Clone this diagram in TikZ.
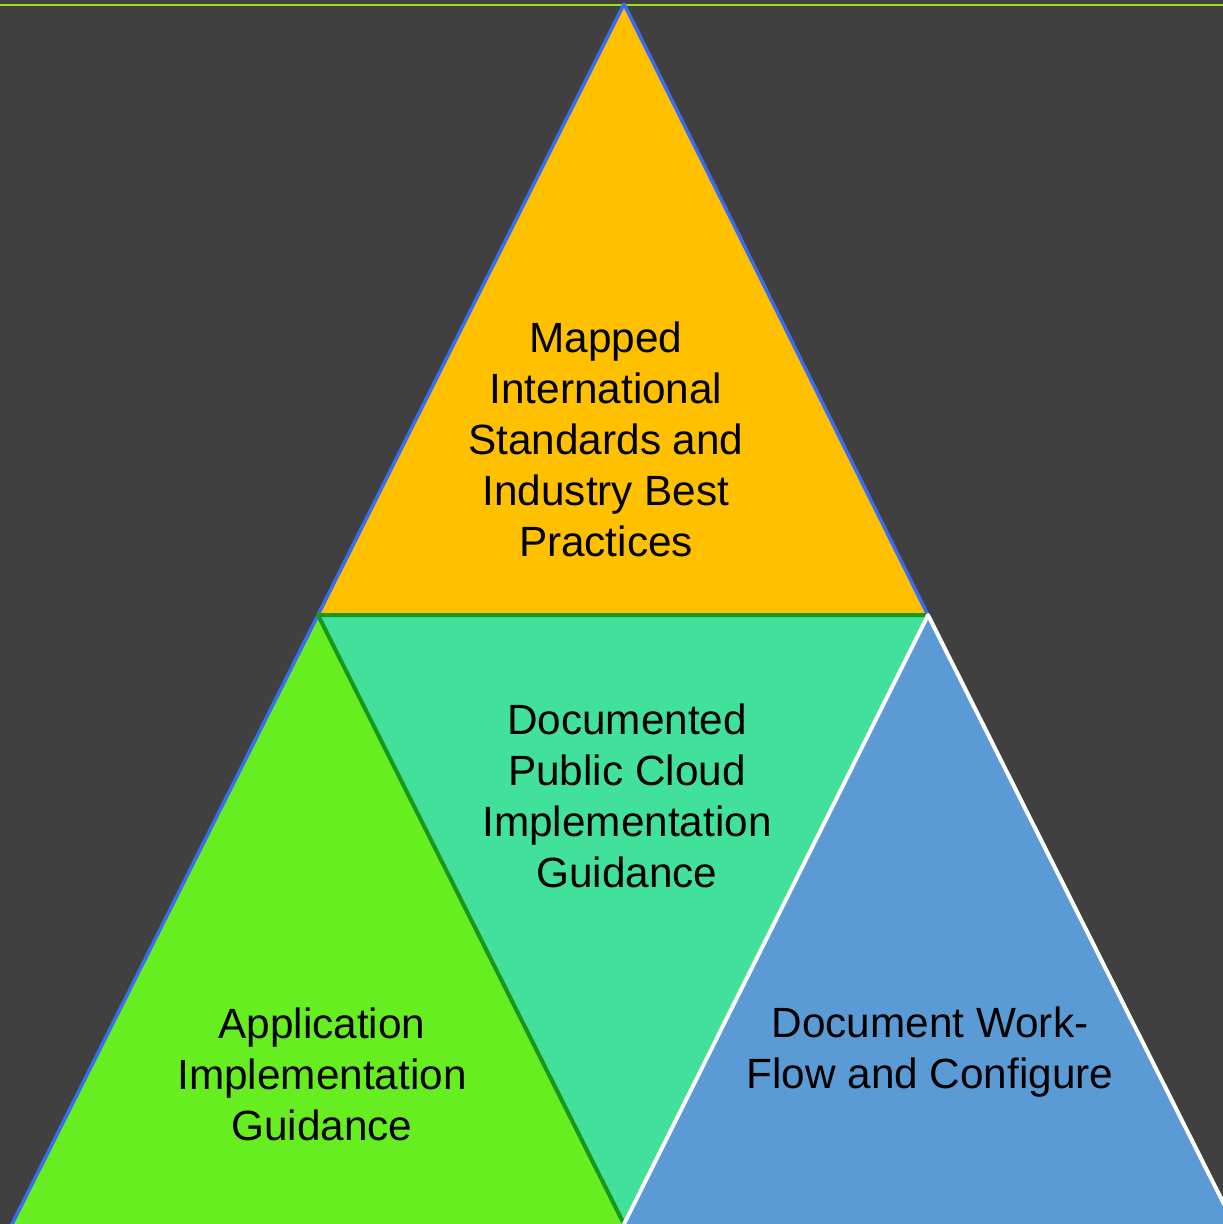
\documentclass[tikz,border=0pt]{standalone}
\usepackage{fontspec}
\setmainfont{Liberation Sans}
\definecolor{bgdark}{HTML}{404040}
\definecolor{topline}{HTML}{9EE01E}
\definecolor{amber}{HTML}{FFC000}
\definecolor{mint}{HTML}{41E19B}
\definecolor{lime}{HTML}{66EE20}
\definecolor{skyblue}{HTML}{5B9BD5}
\definecolor{edgeblue}{HTML}{3A6CF2}
\definecolor{edgegreen}{HTML}{1A961A}
\tikzset{
  tri/.style={line join=round},
  label/.style={align=center, font=\fontsize{42.3}{51}\selectfont, text=black, inner sep=0pt}
}
\begin{document}
\begin{tikzpicture}[x=1pt,y=-1pt]
  \useasboundingbox (0,0) rectangle (1223,1224);
  \fill[bgdark] (0,0) rectangle (1223,1224);
  \clip (0,0) rectangle (1223,1224);
  % thin rule along the top
  \draw[topline, line width=2pt] (0,4.5) -- (1223,4.5);
  % corner points of the pyramid
  \coordinate (apex) at (624,4);
  \coordinate (ml) at (318,615);
  \coordinate (mr) at (928,615);
  \coordinate (bm) at (624,1224);
  \coordinate (blx) at (6,1236);
  \coordinate (brx) at (1240,1236);
  \coordinate (bmx) at (624,1236);
  % top triangle
  \filldraw[tri, fill=amber, draw=edgeblue, line width=3.5pt] (apex) -- (ml) -- (mr) -- cycle;
  % lower left triangle
  \filldraw[tri, fill=lime, draw=edgeblue, line width=3.5pt] (ml) -- (blx) -- (bmx) -- (bm) -- cycle;
  % inverted middle triangle
  \filldraw[tri, fill=mint, draw=edgegreen, line width=4pt] (ml) -- (mr) -- (bm) -- cycle;
  % lower right triangle
  \filldraw[tri, fill=skyblue, draw=white, line width=4pt] (mr) -- (brx) -- (bmx) -- (bm) -- cycle;
  % captions
  \node[label] (ttop) at (606,439) {Mapped\\International\\Standards and\\Industry Best\\Practices};
  \node[label] (tmid) at (627,796) {Documented\\Public Cloud\\Implementation\\Guidance};
  \node[label] (tleft) at (322,1074) {Application\\Implementation\\Guidance};
  \node[label] (tright) at (930,1052) {Document Work-\\Flow and Configure};
\end{tikzpicture}
\end{document}
